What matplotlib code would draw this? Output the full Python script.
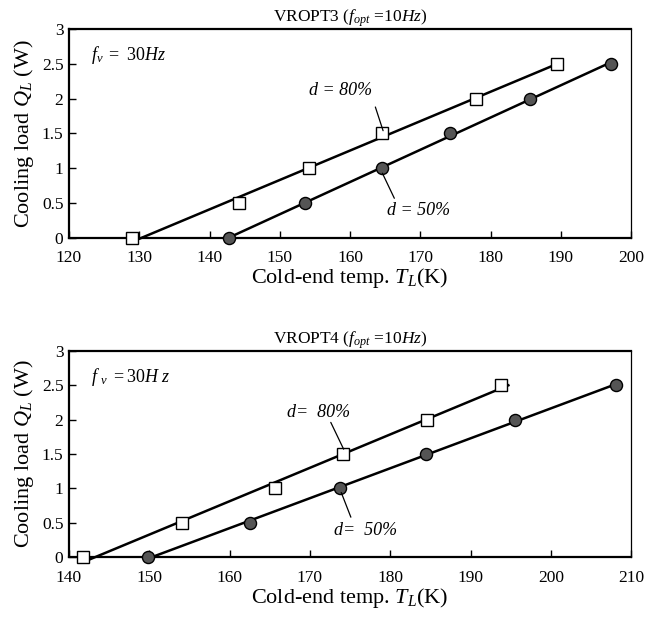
import numpy as np
import matplotlib
matplotlib.use("Agg")
import matplotlib.pyplot as plt

plt.rcParams['font.family'] = ['Liberation Serif', 'DejaVu Serif']
plt.rcParams['mathtext.fontset'] = 'custom'
plt.rcParams['mathtext.rm'] = 'Liberation Serif'
plt.rcParams['mathtext.it'] = 'Liberation Serif:italic'

# VROPT3 data
t3_d80 = [128.9, 144.2, 154.2, 164.6, 177.9, 189.5]
t3_d50 = [142.7, 153.6, 164.6, 174.2, 185.6, 197.2]
# VROPT4 data
t4_d80 = [141.8, 154.1, 165.6, 174.1, 184.6, 193.8]
t4_d50 = [149.8, 162.5, 173.7, 184.5, 195.6, 208.1]
q_load = [0, 0.5, 1.0, 1.5, 2.0, 2.5]

yticks = [0, 0.5, 1, 1.5, 2, 2.5, 3]
ytick_labels = ["0", "0.5", "1", "1.5", "2", "2.5", "3"]

fig = plt.figure(figsize=(6.59, 6.17), dpi=100)

def make_panel(rect, t80, t50, xlim, title, fv_text, lab80, lab50, ann80, ann50):
    ax = fig.add_axes(rect)
    # fitted lines through each data set
    for t, q0 in ((t80, -0.05), (t50, 0.0)):
        p = np.polyfit(q_load, t, 1)  # T as function of Q
        qq = np.array([q0, 2.5])
        ax.plot(np.polyval(p, qq), qq, color='black', lw=1.8, clip_on=False, zorder=2)
    ax.plot(t80, q_load, 's', ms=8.7, mfc='white', mec='black', mew=1.0,
            clip_on=False, zorder=3)
    ax.plot(t50, q_load, 'o', ms=8.7, mfc='#555555', mec='black', mew=1.0,
            clip_on=False, zorder=3)
    ax.set_xlim(*xlim)
    ax.set_ylim(0, 3)
    ax.set_yticks(yticks)
    ax.set_yticklabels(ytick_labels)
    ax.set_xticks(np.arange(xlim[0], xlim[1] + 1, 10))
    ax.tick_params(direction='in', length=5, width=1, labelsize=12.5,
                   top=False, right=False)
    ax.tick_params(axis='x', pad=9)
    ax.tick_params(axis='y', pad=4)
    for s in ('left', 'bottom', 'top'):
        ax.spines[s].set_linewidth(1.6)
    ax.spines['right'].set_linewidth(0.9)
    ax.set_xlabel(r'Cold-end temp. $T_L$(K)', fontsize=16, labelpad=0)
    ax.set_ylabel(r'Cooling load $Q_L$ (W)', fontsize=16, labelpad=4)
    ax.set_title(title, fontsize=12.5, pad=4)
    ax.text(0.039, 0.875, fv_text, transform=ax.transAxes, fontsize=13,
            ha='left', va='center')
    for lab, ((tx, ty), (x0, y0), (x1, y1)) in ((lab80, ann80), (lab50, ann50)):
        ax.text(tx, ty, lab, fontsize=13, style='italic', ha='center', va='center')
        ax.annotate('', xy=(x1, y1), xytext=(x0, y0),
                    arrowprops=dict(arrowstyle='-', color='black', lw=0.9,
                                    shrinkA=0, shrinkB=0))
    return ax

make_panel([0.1047, 0.6143, 0.853, 0.3387], t3_d80, t3_d50, (120, 200),
           r'VROPT3 ($f_{opt}$ =$\mathit{10Hz}$)', r'$f_v\mathit{\ =\ 30Hz}$',
           'd = 80%', 'd = 50%',
           ((158.7, 2.12), (163.6, 1.88), (164.7, 1.54)),
           ((169.7, 0.39), (164.6, 0.93), (166.3, 0.57)))

make_panel([0.1047, 0.0972, 0.853, 0.334], t4_d80, t4_d50, (140, 210),
           r'VROPT4 ($f_{opt}$ =$\mathit{10Hz}$)', r'$f\ _v\mathit{\ =30H\ z}$',
           'd=  80%', 'd=  50%',
           ((171.1, 2.10), (172.6, 1.96), (174.2, 1.57)),
           ((176.9, 0.39), (173.9, 0.94), (175.1, 0.58)))

fig.savefig('out.png', dpi=100)
